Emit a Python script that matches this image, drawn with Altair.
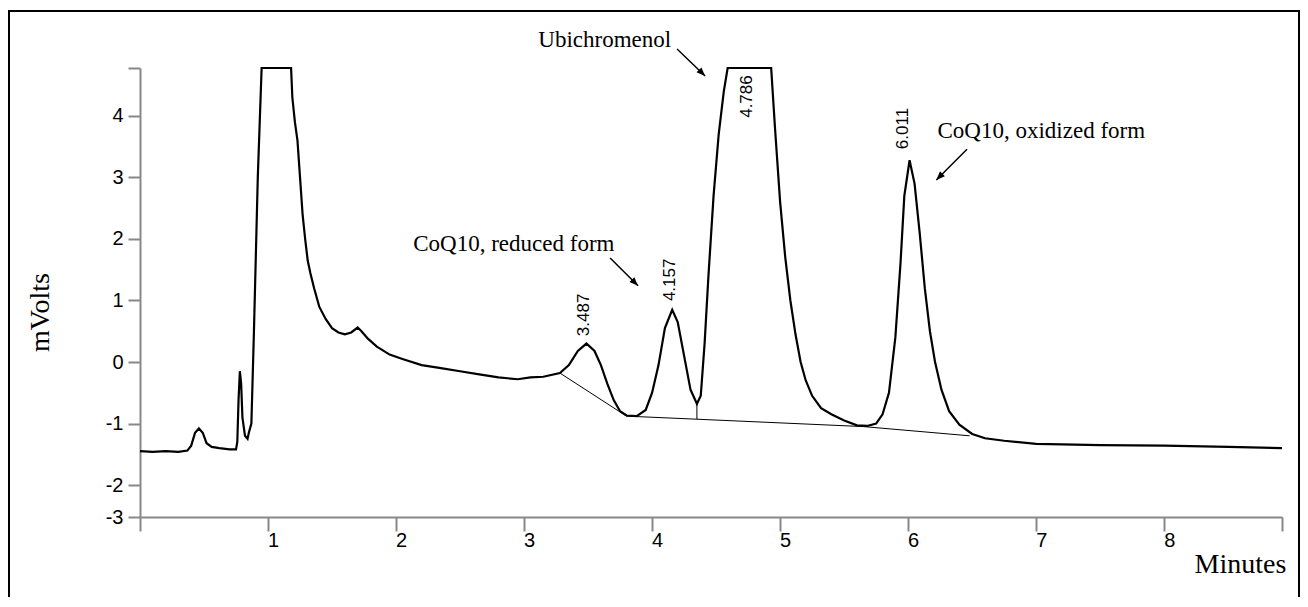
import altair as alt
import pandas as pd

# ---- chromatogram trace (minutes, mV) ----
time = [0.00, 0.10, 0.20, 0.30, 0.37, 0.40, 0.43, 0.46, 0.49, 0.52, 0.56, 0.62, 0.70, 0.75,
        0.76, 0.77, 0.78, 0.79, 0.80, 0.82, 0.84, 0.85, 0.87, 0.89, 0.92, 0.95,
        1.18, 1.19, 1.21, 1.23, 1.25, 1.27, 1.29, 1.31, 1.33, 1.36, 1.40, 1.45, 1.50, 1.55,
        1.60, 1.65, 1.70, 1.73, 1.78, 1.85, 1.95, 2.05, 2.20, 2.35, 2.50, 2.65, 2.80, 2.95,
        3.05, 3.15, 3.28, 3.35, 3.42, 3.487, 3.55, 3.60, 3.65, 3.70, 3.75, 3.80, 3.88, 3.95,
        4.00, 4.05, 4.10, 4.157, 4.20, 4.25, 4.30, 4.35, 4.38, 4.41, 4.44, 4.48, 4.52, 4.56, 4.59,
        4.93, 4.96, 5.00, 5.04, 5.08, 5.12, 5.16, 5.20, 5.25, 5.32, 5.40, 5.50, 5.60, 5.68,
        5.75, 5.80, 5.85, 5.90, 5.94, 5.97, 6.011, 6.05, 6.09, 6.13, 6.17, 6.21, 6.26, 6.32,
        6.40, 6.50, 6.60, 6.75, 7.00, 7.50, 8.00, 8.50, 8.92]
signal = [-1.45, -1.46, -1.45, -1.46, -1.44, -1.36, -1.15, -1.08, -1.15, -1.32, -1.38, -1.40, -1.42, -1.42,
          -1.30, -0.60, -0.15, -0.35, -0.90, -1.20, -1.25, -1.15, -1.00, 0.50, 3.00, 4.78,
          4.78, 4.30, 3.90, 3.60, 3.00, 2.40, 2.00, 1.65, 1.45, 1.20, 0.90, 0.70, 0.55, 0.48,
          0.45, 0.48, 0.56, 0.50, 0.38, 0.25, 0.12, 0.05, -0.05, -0.10, -0.15, -0.20, -0.25, -0.28,
          -0.25, -0.24, -0.18, -0.05, 0.18, 0.30, 0.18, -0.05, -0.35, -0.62, -0.80, -0.87, -0.88, -0.78,
          -0.50, -0.05, 0.55, 0.85, 0.65, 0.10, -0.45, -0.68, -0.55, 0.30, 1.40, 2.70, 3.70, 4.40, 4.78,
          4.78, 3.80, 2.60, 1.70, 1.00, 0.45, 0.00, -0.30, -0.55, -0.75, -0.85, -0.95, -1.03, -1.04,
          -1.00, -0.85, -0.50, 0.40, 1.60, 2.70, 3.28, 2.90, 2.10, 1.20, 0.50, 0.00, -0.45, -0.80,
          -1.02, -1.17, -1.24, -1.28, -1.33, -1.35, -1.36, -1.38, -1.40]

# ---- integration baseline ----
base_t = [3.28, 3.80, 4.35, 5.65, 6.48]
base_v = [-0.18, -0.88, -0.93, -1.05, -1.20]
drop_t = [4.35]
drop_top = [-0.68]
drop_bottom = [-0.93]

# ---- retention-time labels ----
peak_labels = ["3.487", "4.157", "4.786", "6.011"]
label_t = [3.47, 4.14, 4.74, 5.96]
label_v = [0.42, 0.99, 3.97, 3.46]

# ---- annotations ----
ann_text = ["Ubichromenol", "CoQ10, reduced form", "CoQ10, oxidized form"]
ann_t = [3.63, 2.92, 7.04]
ann_v = [5.24, 1.92, 3.76]
arrow_t0 = [4.195, 3.672, 6.46]
arrow_v0 = [5.09, 1.69, 3.46]
arrow_t1 = [4.414, 3.89, 6.22]
arrow_v1 = [4.65, 1.24, 2.96]
arrow_angle = [135, 135, 225]

# ---- axes ----
x_tick_values = [0, 1, 2, 3, 4, 5, 6, 7, 8, 8.92]
x_tick_labels = ["", "1", "2", "3", "4", "5", "6", "7", "8", ""]
y_tick_values = [-2.52, -2, -1, 0, 1, 2, 3, 4, 4.78]
y_tick_labels = ["-3", "-2", "-1", "0", "1", "2", "3", "4", ""]
x_domain = [0, 8.92]
y_domain = [-2.52, 4.78]


def label_expr(values, labels):
    expr = "datum.label"
    for v, l in reversed(list(zip(values, labels))):
        expr = f"abs(datum.value - ({v})) < 0.001 ? '{l}' : ({expr})"
    return expr


trace_df = pd.DataFrame({"t": time, "v": signal})
base_df = pd.DataFrame({"t": base_t, "v": base_v})
drop_df = pd.DataFrame({"t": drop_t, "v": drop_top, "v2": drop_bottom})
lab_df = pd.DataFrame({"t": label_t, "v": label_v, "txt": peak_labels})
ann_df = pd.DataFrame({"t": ann_t, "v": ann_v, "txt": ann_text})
arr_df = pd.DataFrame({"t0": arrow_t0, "v0": arrow_v0, "t1": arrow_t1, "v1": arrow_v1,
                       "ang": arrow_angle})

xs = alt.Scale(domain=x_domain, nice=False, zero=False)
ys = alt.Scale(domain=y_domain, nice=False, zero=False)

x_axis = alt.Axis(values=x_tick_values, labelExpr=label_expr(x_tick_values, x_tick_labels),
                  tickSize=14, tickWidth=2, domainWidth=2, labelPadding=-1, labelOffset=5,
                  labelFont="Liberation Sans", labelFontSize=20, labelColor="black",
                  labelFlush=False, labelOverlap=False, grid=False,
                  title="Minutes", titleFont="Liberation Serif", titleFontSize=28,
                  titleFontWeight="normal", titleColor="black", titleX=1100, titleY=47,
                  titleAlign="center", titleBaseline="middle")
y_axis = alt.Axis(values=y_tick_values, labelExpr=label_expr(y_tick_values, y_tick_labels),
                  tickSize=12, tickWidth=2, domainWidth=2, labelPadding=5,
                  labelFont="Liberation Sans", labelFontSize=20, labelColor="black",
                  labelFlush=False, labelOverlap=False, grid=False,
                  title="mVolts", titleFont="Liberation Serif", titleFontSize=28,
                  titleFontWeight="normal", titleColor="black", titleX=-100, titleY=244,
                  titleAngle=270, titleAlign="center", titleBaseline="middle")

trace = alt.Chart(trace_df).mark_line(color="black", strokeWidth=2.2).encode(
    x=alt.X("t:Q", scale=xs, axis=x_axis),
    y=alt.Y("v:Q", scale=ys, axis=y_axis),
)
base = alt.Chart(base_df).mark_line(color="black", strokeWidth=1).encode(
    x=alt.X("t:Q", scale=xs), y=alt.Y("v:Q", scale=ys))
drop = alt.Chart(drop_df).mark_rule(color="black", strokeWidth=1).encode(
    x=alt.X("t:Q", scale=xs), y=alt.Y("v:Q", scale=ys), y2="v2:Q")
labels = alt.Chart(lab_df).mark_text(angle=270, align="left", baseline="middle",
                                     font="Liberation Sans", fontSize=17, color="black").encode(
    x=alt.X("t:Q", scale=xs), y=alt.Y("v:Q", scale=ys), text="txt:N")
ann = alt.Chart(ann_df).mark_text(align="center", baseline="middle",
                                  font="Liberation Serif", fontSize=23, color="black").encode(
    x=alt.X("t:Q", scale=xs), y=alt.Y("v:Q", scale=ys), text="txt:N")
arrows = alt.Chart(arr_df).mark_rule(color="black", strokeWidth=1.5).encode(
    x=alt.X("t0:Q", scale=xs), y=alt.Y("v0:Q", scale=ys), x2="t1:Q", y2="v1:Q")
heads = alt.Chart(arr_df).mark_point(shape="M0,0L-0.4,1L0.4,1Z", filled=True, color="black",
                                     size=300, opacity=1).encode(
    x=alt.X("t1:Q", scale=xs), y=alt.Y("v1:Q", scale=ys), angle=alt.Angle("ang:Q", scale=None))
frame = alt.Chart(pd.DataFrame({"a": [0]})).mark_rect(fill=None, stroke="black", strokeWidth=2).encode(
    x=alt.value(-131), x2=alt.value(1159), y=alt.value(-57), y2=alt.value(560))

chart = alt.layer(frame, base, drop, trace, labels, ann, arrows, heads).properties(
    width=1142, height=449, autosize="none",
    padding={"left": 132, "top": 60, "right": 18, "bottom": 80},
    background="white",
).configure_view(stroke=None)

chart.save("out.html", embed_options={"renderer": "svg", "actions": False})
